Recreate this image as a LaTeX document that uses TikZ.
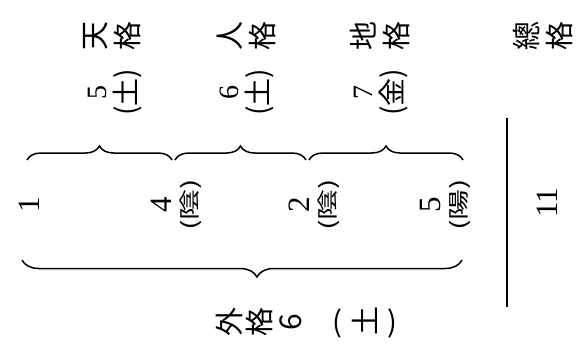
\documentclass[tikz,border=0pt]{standalone}
\usepackage{fontspec}
\setmainfont{Liberation Serif}
\newfontfamily\cjk{Noto Sans CJK JP}
\usetikzlibrary{decorations.pathreplacing}
\newcommand\pk[2][1]{\scalebox{1}[#1]{\cjk(#2)}}

\begin{document}
\begin{tikzpicture}[
    x=1pt, y=1pt,
    every node/.style={rotate=90, align=center, inner sep=0pt},
    kaku/.style={font=\cjk\fontsize{29}{33}\selectfont},
    su/.style={font=\fontsize{28}{30}\selectfont},
    mei/.style={font=\fontsize{31}{26}\selectfont},
    brace/.style={decorate, decoration={brace, amplitude=14pt}, line width=1.5pt},
    bar/.style={line width=2pt}
]
\useasboundingbox (0,0) rectangle (588,-353);

\node[kaku] (ten) at (112,-36) {天\\格};
\node[kaku] (jin) at (246,-36) {人\\格};
\node[kaku] (chi) at (380,-36) {地\\格};
\node[kaku] (sou) at (543,-36) {總\\格};

\node[su] (tenv) at (115,-92) {5\\\pk{土}};
\node[su] (jinv) at (247,-92) {6\\\pk{土}};
\node[su] (chiv) at (381,-92) {7\\\pk{金}};

\node[mei] (m1) at (29,-205) {1};
\node[mei] (m4) at (176,-205) {4\\\pk[0.68]{陰}};
\node[mei] (m2) at (314,-205) {2\\\pk[0.68]{陰}};
\node[mei] (m5) at (445,-205) {5\\\pk[0.68]{陽}};
\node[mei] (souv) at (547,-203) {11};

\node[kaku] (gai) at (259,-322) {外\\[-3pt]格\\[-2pt]\fontsize{30}{31}\selectfont 6};
\node[kaku, rotate=-90] (gaiv) at (365,-322) {(\,\,\rotatebox[origin=c]{90}{土}\,\,)};

\coordinate (a0) at (27,-160);
\coordinate (a1) at (172,-160);
\coordinate (b0) at (175,-160);
\coordinate (b1) at (306,-160);
\coordinate (c0) at (309,-160);
\coordinate (c1) at (463,-160);
\coordinate (d0) at (462,-260);
\coordinate (d1) at (22,-260);
\coordinate (e0) at (507,-118);
\coordinate (e1) at (507,-307);

\draw[brace] (a0) -- (a1);
\draw[brace] (b0) -- (b1);
\draw[brace] (c0) -- (c1);
\draw[brace, decoration={aspect=0.466, amplitude=17pt}] (d0) -- (d1);
\draw[bar] (e0) -- (e1);
\end{tikzpicture}
\end{document}
